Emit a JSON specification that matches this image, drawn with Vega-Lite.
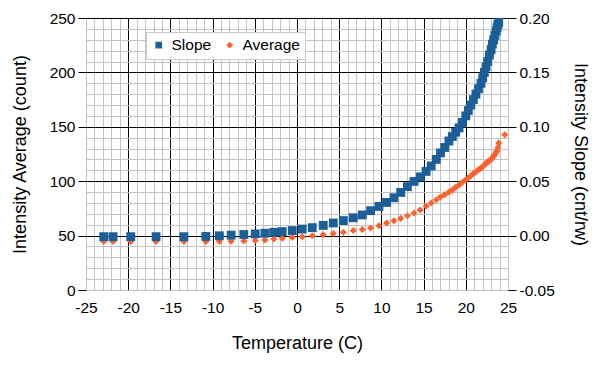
{
  "$schema": "https://vega.github.io/schema/vega-lite/v6.json",
  "width": 422,
  "height": 272,
  "autosize": {"type": "none"},
  "padding": {"left": 86, "top": 18, "right": 94, "bottom": 75},
  "background": "white",
  "config": {
    "view": {"stroke": null},
    "font": "Liberation Sans",
    "axis": {
      "labelFont": "Liberation Sans",
      "titleFont": "Liberation Sans",
      "labelFontSize": 15.5,
      "titleFontSize": 18,
      "titleFontWeight": "normal",
      "labelColor": "black",
      "titleColor": "black",
      "tickColor": "black",
      "domain": false,
      "labelOverlap": false,
      "labelFlush": false
    },
    "legend": {
      "labelFont": "Liberation Sans",
      "labelFontSize": 15.5,
      "labelColor": "black"
    }
  },
  "data": {
    "values": [
      {"t": -22.9, "s": "Average", "v": 44.5},
      {"t": -21.8, "s": "Average", "v": 44.5},
      {"t": -19.7, "s": "Average", "v": 44.5},
      {"t": -16.7, "s": "Average", "v": 44.5},
      {"t": -13.4, "s": "Average", "v": 44.5},
      {"t": -10.8, "s": "Average", "v": 44.6},
      {"t": -9.2, "s": "Average", "v": 44.7},
      {"t": -7.8, "s": "Average", "v": 44.8},
      {"t": -6.3, "s": "Average", "v": 45.1},
      {"t": -4.95, "s": "Average", "v": 45.6},
      {"t": -3.8, "s": "Average", "v": 46.0},
      {"t": -2.75, "s": "Average", "v": 46.9},
      {"t": -1.75, "s": "Average", "v": 47.5},
      {"t": -0.56, "s": "Average", "v": 48.4},
      {"t": 0.62, "s": "Average", "v": 49.0},
      {"t": 1.81, "s": "Average", "v": 49.8},
      {"t": 3.11, "s": "Average", "v": 50.8},
      {"t": 4.3, "s": "Average", "v": 52.0},
      {"t": 5.49, "s": "Average", "v": 53.0},
      {"t": 6.67, "s": "Average", "v": 54.8},
      {"t": 7.74, "s": "Average", "v": 55.6},
      {"t": 8.72, "s": "Average", "v": 57.0},
      {"t": 9.71, "s": "Average", "v": 59.1},
      {"t": 10.62, "s": "Average", "v": 61.6},
      {"t": 11.49, "s": "Average", "v": 63.7},
      {"t": 12.29, "s": "Average", "v": 65.8},
      {"t": 13.08, "s": "Average", "v": 68.3},
      {"t": 13.87, "s": "Average", "v": 70.8},
      {"t": 14.6, "s": "Average", "v": 73.5},
      {"t": 15.3, "s": "Average", "v": 77.0},
      {"t": 15.9, "s": "Average", "v": 80.0},
      {"t": 16.5, "s": "Average", "v": 83.0},
      {"t": 17.0, "s": "Average", "v": 85.5},
      {"t": 17.5, "s": "Average", "v": 87.5},
      {"t": 18.0, "s": "Average", "v": 90.0},
      {"t": 18.4, "s": "Average", "v": 92.0},
      {"t": 18.8, "s": "Average", "v": 94.5},
      {"t": 19.2, "s": "Average", "v": 96.5},
      {"t": 19.6, "s": "Average", "v": 99.0},
      {"t": 20.0, "s": "Average", "v": 101.4},
      {"t": 20.3, "s": "Average", "v": 103.0},
      {"t": 20.6, "s": "Average", "v": 105.0},
      {"t": 20.9, "s": "Average", "v": 107.0},
      {"t": 21.2, "s": "Average", "v": 108.5},
      {"t": 21.5, "s": "Average", "v": 110.5},
      {"t": 21.8, "s": "Average", "v": 112.0},
      {"t": 22.0, "s": "Average", "v": 113.5},
      {"t": 22.2, "s": "Average", "v": 115.0},
      {"t": 22.4, "s": "Average", "v": 116.5},
      {"t": 22.6, "s": "Average", "v": 117.5},
      {"t": 22.8, "s": "Average", "v": 119.0},
      {"t": 23.0, "s": "Average", "v": 120.0},
      {"t": 23.15, "s": "Average", "v": 121.5},
      {"t": 23.3, "s": "Average", "v": 123.0},
      {"t": 23.45, "s": "Average", "v": 124.5},
      {"t": 23.6, "s": "Average", "v": 126.5},
      {"t": 23.7, "s": "Average", "v": 128.0},
      {"t": 23.8, "s": "Average", "v": 131.0},
      {"t": 23.9, "s": "Average", "v": 135.0},
      {"t": 24.62, "s": "Average", "v": 142.7},
      {"t": -22.9, "s": "Slope", "v": -0.001},
      {"t": -21.8, "s": "Slope", "v": -0.001},
      {"t": -19.7, "s": "Slope", "v": -0.001},
      {"t": -16.7, "s": "Slope", "v": -0.001},
      {"t": -13.4, "s": "Slope", "v": -0.001},
      {"t": -10.8, "s": "Slope", "v": -0.0008},
      {"t": -9.2, "s": "Slope", "v": -0.0002},
      {"t": -7.8, "s": "Slope", "v": 0.0004},
      {"t": -6.3, "s": "Slope", "v": 0.001},
      {"t": -4.95, "s": "Slope", "v": 0.0016},
      {"t": -3.8, "s": "Slope", "v": 0.0022},
      {"t": -2.75, "s": "Slope", "v": 0.003},
      {"t": -1.75, "s": "Slope", "v": 0.0037},
      {"t": -0.56, "s": "Slope", "v": 0.0046},
      {"t": 0.62, "s": "Slope", "v": 0.006},
      {"t": 1.81, "s": "Slope", "v": 0.0073},
      {"t": 3.11, "s": "Slope", "v": 0.0094},
      {"t": 4.3, "s": "Slope", "v": 0.0116},
      {"t": 5.49, "s": "Slope", "v": 0.0138},
      {"t": 6.67, "s": "Slope", "v": 0.0164},
      {"t": 7.74, "s": "Slope", "v": 0.019},
      {"t": 8.72, "s": "Slope", "v": 0.0229},
      {"t": 9.71, "s": "Slope", "v": 0.0268},
      {"t": 10.62, "s": "Slope", "v": 0.0305},
      {"t": 11.49, "s": "Slope", "v": 0.0348},
      {"t": 12.29, "s": "Slope", "v": 0.0397},
      {"t": 13.08, "s": "Slope", "v": 0.045},
      {"t": 13.87, "s": "Slope", "v": 0.0498},
      {"t": 14.6, "s": "Slope", "v": 0.054},
      {"t": 15.3, "s": "Slope", "v": 0.059},
      {"t": 15.9, "s": "Slope", "v": 0.064},
      {"t": 16.5, "s": "Slope", "v": 0.07},
      {"t": 17.0, "s": "Slope", "v": 0.076},
      {"t": 17.5, "s": "Slope", "v": 0.081},
      {"t": 18.0, "s": "Slope", "v": 0.087},
      {"t": 18.4, "s": "Slope", "v": 0.091},
      {"t": 18.8, "s": "Slope", "v": 0.095},
      {"t": 19.2, "s": "Slope", "v": 0.099},
      {"t": 19.6, "s": "Slope", "v": 0.104},
      {"t": 20.0, "s": "Slope", "v": 0.11},
      {"t": 20.3, "s": "Slope", "v": 0.115},
      {"t": 20.6, "s": "Slope", "v": 0.12},
      {"t": 20.9, "s": "Slope", "v": 0.125},
      {"t": 21.2, "s": "Slope", "v": 0.13},
      {"t": 21.5, "s": "Slope", "v": 0.135},
      {"t": 21.8, "s": "Slope", "v": 0.14},
      {"t": 22.0, "s": "Slope", "v": 0.145},
      {"t": 22.2, "s": "Slope", "v": 0.15},
      {"t": 22.4, "s": "Slope", "v": 0.155},
      {"t": 22.6, "s": "Slope", "v": 0.16},
      {"t": 22.8, "s": "Slope", "v": 0.166},
      {"t": 23.0, "s": "Slope", "v": 0.171},
      {"t": 23.15, "s": "Slope", "v": 0.176},
      {"t": 23.3, "s": "Slope", "v": 0.18},
      {"t": 23.45, "s": "Slope", "v": 0.184},
      {"t": 23.6, "s": "Slope", "v": 0.188},
      {"t": 23.7, "s": "Slope", "v": 0.191},
      {"t": 23.8, "s": "Slope", "v": 0.194},
      {"t": 23.9, "s": "Slope", "v": 0.196}
    ]
  },
  "encoding": {
    "x": {
      "field": "t",
      "type": "quantitative",
      "scale": {"domain": [-25, 25], "nice": false, "zero": false},
      "axis": {
        "title": "Temperature (C)",
        "values": [-25,-24,-23,-22,-21,-20,-19,-18,-17,-16,-15,-14,-13,-12,-11,-10,-9,-8,-7,-6,-5,-4,-3,-2,-1,0,1,2,3,4,5,6,7,8,9,10,11,12,13,14,15,16,17,18,19,20,21,22,23,24,25],
        "labelExpr": "datum.value % 5 == 0 ? replace(datum.label, '\u2212', '-') : ''",
        "ticks": false,
        "labelPadding": 10,
        "titlePadding": 19,
        "grid": true,
        "gridWidth": 1,
        "gridOpacity": 1,
        "gridColor": {"condition": {"test": "datum.value % 5 == 0 && abs(datum.value) < 25", "value": "#000000"}, "value": "#c2c2c2"}
      }
    },
    "color": {
      "field": "s",
      "type": "nominal",
      "scale": {"domain": ["Slope", "Average"], "range": ["#1b5e98", "#fa6230"]},
      "legend": {
        "title": null,
        "orient": "none",
        "legendX": 60,
        "legendY": 14,
        "direction": "horizontal",
        "fillColor": "white",
        "strokeColor": "#c8c8c8",
        "padding": 5,
        "symbolSize": 45,
        "labelOffset": 5,
        "columnPadding": 10,
        "symbolStrokeWidth": 0
      }
    },
    "shape": {
      "field": "s",
      "type": "nominal",
      "scale": {"domain": ["Slope", "Average"], "range": ["square", "diamond"]},
      "legend": {
        "title": null,
        "orient": "none",
        "legendX": 60,
        "legendY": 14,
        "direction": "horizontal",
        "fillColor": "white",
        "strokeColor": "#c8c8c8",
        "padding": 5,
        "symbolSize": 45,
        "labelOffset": 5,
        "columnPadding": 10,
        "symbolStrokeWidth": 0
      }
    }
  },
  "layer": [
    {
      "transform": [{"filter": "datum.s == 'Average'"}],
      "mark": {"type": "point", "filled": true, "opacity": 1, "size": 50},
      "encoding": {
        "y": {
          "field": "v",
          "type": "quantitative",
          "scale": {"domain": [0, 250], "nice": false, "zero": false},
          "axis": {
            "orient": "left",
            "title": "Intensity Average (count)",
            "values": [0,10,20,30,40,50,60,70,80,90,100,110,120,130,140,150,160,170,180,190,200,210,220,230,240,250],
            "labelExpr": "datum.value % 50 == 0 ? datum.label : ''",
            "tickSize": 8,
            "tickOpacity": {"condition": {"test": "datum.value % 50 == 0", "value": 1}, "value": 0},
            "labelPadding": 3,
            "titlePadding": 20,
            "grid": true,
            "gridWidth": 1,
            "gridOpacity": 1,
            "gridColor": {"condition": {"test": "datum.value % 50 == 0 && datum.value > 0", "value": "#000000"}, "value": "#c2c2c2"}
          }
        }
      }
    },
    {
      "transform": [{"filter": "datum.s == 'Slope'"}],
      "mark": {"type": "point", "filled": true, "opacity": 1, "size": 78},
      "encoding": {
        "y": {
          "field": "v",
          "type": "quantitative",
          "scale": {"domain": [-0.05, 0.2], "nice": false, "zero": false},
          "axis": {
            "orient": "right",
            "title": "Intensity Slope (cnt/rw)",
            "values": [-0.05, 0, 0.05, 0.1, 0.15, 0.2],
            "labelExpr": "replace(format(datum.value, '.2f'), '\u2212', '-')",
            "tickSize": 8,
            "labelPadding": 3,
            "titlePadding": 16,
            "grid": false
          }
        }
      }
    }
  ],
  "resolve": {"scale": {"y": "independent"}}
}
